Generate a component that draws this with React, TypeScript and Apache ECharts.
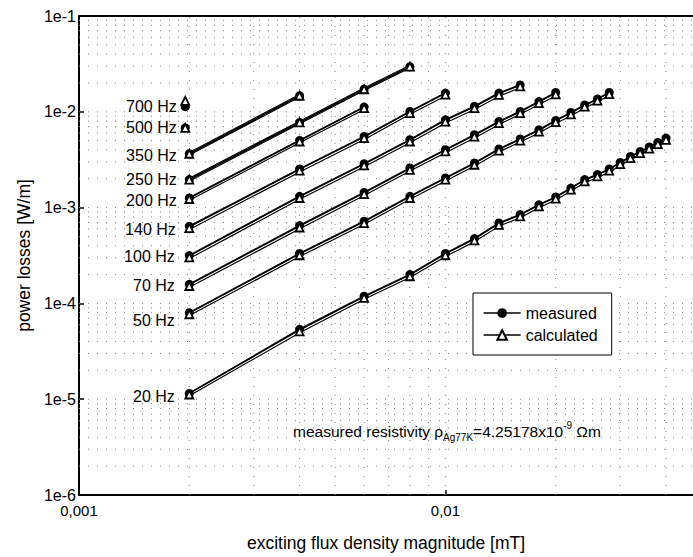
import React, { useEffect, useRef } from 'react';
import * as echarts from 'echarts';

const FONT = '"Liberation Sans", Arial, Helvetica, sans-serif';

// ---------- data ----------
const frequencyLabels = ['700 Hz', '500 Hz', '350 Hz', '250 Hz', '200 Hz', '140 Hz', '100 Hz', '70 Hz', '50 Hz', '20 Hz'];

const singlePointB = [0.00195];
const fluxB = [0.002, 0.004, 0.006, 0.008, 0.01, 0.012, 0.014, 0.016, 0.018, 0.02,
  0.022, 0.024, 0.026, 0.028, 0.03, 0.032, 0.034, 0.036, 0.038, 0.04];

const measured700 = [1.13e-2];
const calculated700 = [1.3e-2];
const measured500 = [6.8e-3];
const calculated500 = [6.8e-3];
const measured350 = [3.65e-3, 1.47e-2];
const calculated350 = [3.65e-3, 1.47e-2];
const measured250 = [1.96e-3, 7.74e-3, 1.72e-2, 2.96e-2];
const calculated250 = [1.96e-3, 7.74e-3, 1.72e-2, 2.96e-2];
const measured200 = [1.26e-3, 5.02e-3, 1.12e-2];
const calculated200 = [1.23e-3, 4.9e-3, 1.09e-2];
const measured140 = [6.38e-4, 2.53e-3, 5.53e-3, 1.01e-2, 1.57e-2];
const calculated140 = [6.1e-4, 2.43e-3, 5.3e-3, 9.7e-3, 1.51e-2];
const measured100 = [3.16e-4, 1.31e-3, 2.87e-3, 5.11e-3, 8.25e-3, 1.14e-2, 1.57e-2, 1.91e-2];
const calculated100 = [3.03e-4, 1.26e-3, 2.76e-3, 4.9e-3, 7.9e-3, 1.09e-2, 1.5e-2, 1.84e-2];
const measured70 = [1.58e-4, 6.49e-4, 1.44e-3, 2.59e-3, 4.02e-3, 5.76e-3, 7.92e-3, 1.01e-2, 1.28e-2, 1.59e-2];
const calculated70 = [1.52e-4, 6.2e-4, 1.38e-3, 2.48e-3, 3.86e-3, 5.5e-3, 7.6e-3, 9.7e-3, 1.23e-2, 1.52e-2];
const measured50 = [8.0e-5, 3.32e-4, 7.2e-4, 1.31e-3, 2.04e-3, 2.92e-3, 4.09e-3, 5.2e-3, 6.49e-3, 8.11e-3,
  9.84e-3, 1.18e-2, 1.36e-2, 1.59e-2];
const calculated50 = [7.7e-5, 3.18e-4, 6.9e-4, 1.26e-3, 1.96e-3, 2.8e-3, 3.93e-3, 5.0e-3, 6.2e-3, 7.8e-3,
  9.4e-3, 1.13e-2, 1.31e-2, 1.53e-2];
const measured20 = [1.15e-5, 5.36e-5, 1.19e-4, 2.0e-4, 3.32e-4, 4.75e-4, 6.92e-4, 8.45e-4, 1.07e-3, 1.29e-3,
  1.6e-3, 1.96e-3, 2.21e-3, 2.53e-3, 2.96e-3, 3.42e-3, 3.86e-3, 4.29e-3, 4.79e-3, 5.32e-3];
const calculated20 = [1.12e-5, 5.1e-5, 1.14e-4, 1.92e-4, 3.18e-4, 4.55e-4, 6.6e-4, 8.1e-4, 1.03e-3, 1.24e-3,
  1.54e-3, 1.88e-3, 2.12e-3, 2.43e-3, 2.84e-3, 3.28e-3, 3.7e-3, 4.12e-3, 4.6e-3, 5.1e-3];

const xTickValues = [0.001, 0.01];
const xTickLabels = ['0,001', '0,01'];
const yTickValues = [1e-6, 1e-5, 1e-4, 1e-3, 1e-2, 1e-1];
const yTickLabels = ['1e-6', '1e-5', '1e-4', '1e-3', '1e-2', '1e-1'];
const gridMultipliers = [1, 2, 3, 4, 5, 6, 7, 8, 9];
const xGridDecades = [0.001, 0.01];
const yGridDecades = [1e-6, 1e-5, 1e-4, 1e-3, 1e-2];

const X_MIN = 0.001;
const X_MAX = 0.0474;
const Y_MIN = 1e-6;
const Y_MAX = 1e-1;

// ---------- assembly ----------
const groups = [
  { label: frequencyLabels[0], x: singlePointB, m: measured700, c: calculated700 },
  { label: frequencyLabels[1], x: singlePointB, m: measured500, c: calculated500 },
  { label: frequencyLabels[2], x: fluxB, m: measured350, c: calculated350 },
  { label: frequencyLabels[3], x: fluxB, m: measured250, c: calculated250 },
  { label: frequencyLabels[4], x: fluxB, m: measured200, c: calculated200 },
  { label: frequencyLabels[5], x: fluxB, m: measured140, c: calculated140 },
  { label: frequencyLabels[6], x: fluxB, m: measured100, c: calculated100 },
  { label: frequencyLabels[7], x: fluxB, m: measured70, c: calculated70 },
  { label: frequencyLabels[8], x: fluxB, m: measured50, c: calculated50 },
  { label: frequencyLabels[9], x: fluxB, m: measured20, c: calculated20 },
];

// label placement styles (per group index)
const labelDistance = [4, 4, 8, 8, 8, 9, 10, 10, 10, 10];
const labelOffsetY = [0, 0, 2, 0, 3, 3, 1, 1, 8, 3];

const pairs = (xs: number[], ys: number[]) => ys.map((y, i) => [xs[i], y]);

const findLabel = (v: number, values: number[], labels: string[]) => {
  for (let i = 0; i < values.length; i++) {
    if (Math.abs(Math.log10(v) - Math.log10(values[i])) < 1e-6) return labels[i];
  }
  return '';
};

const gridLineStyle = { color: '#808080', type: [1, 8], width: 1 };

function buildOption(): any {
  const series: any[] = [];

  const xGrid: number[] = [];
  xGridDecades.forEach((d) => gridMultipliers.forEach((k) => {
    const v = d * k;
    if (v > X_MIN * 1.0001 && v < X_MAX) xGrid.push(v);
  }));
  const yGrid: number[] = [];
  yGridDecades.forEach((d) => gridMultipliers.forEach((k) => {
    const v = d * k;
    if (v > Y_MIN * 1.0001 && v < Y_MAX * 0.9999) yGrid.push(v);
  }));

  xGrid.forEach((v, i) => {
    series.push({
      type: 'line', name: 'gx' + i, data: [[v, Y_MIN], [v, Y_MAX]], symbol: 'none',
      lineStyle: gridLineStyle, z: 0, silent: true,
    });
  });
  yGrid.forEach((v, i) => {
    series.push({
      type: 'line', name: 'gy' + i, data: [[X_MIN, v], [X_MAX, v]], symbol: 'none',
      lineStyle: gridLineStyle, z: 0, silent: true,
    });
  });

  groups.forEach((g, k) => {
    const cData = pairs(g.x, g.c);
    const mData: any[] = pairs(g.x, g.m).map((p, i) =>
      i === 0
        ? {
            value: p,
            label: {
              show: true,
              formatter: g.label,
              position: 'left',
              distance: labelDistance[k],
              offset: [0, labelOffsetY[k]],
              color: '#000',
              fontSize: 16,
              fontFamily: FONT,
            },
          }
        : { value: p }
    );
    series.push({
      type: 'line', name: 'calc-outline-' + k, data: cData, symbol: 'none',
      lineStyle: { color: '#000', width: 3.5 }, z: 1, silent: true,
    });
    series.push({
      type: 'line', name: 'calc-inner-' + k, data: cData, symbol: 'none',
      lineStyle: { color: '#fff', width: 1.2 }, z: 2, silent: true,
    });
    series.push({
      type: 'line', name: 'measured', data: mData, symbol: 'circle', symbolSize: 9,
      itemStyle: { color: '#000' }, lineStyle: { color: '#000', width: 1.7 }, z: 3, silent: true,
    });
    series.push({
      type: 'line', name: 'calculated', data: cData, symbol: 'triangle', symbolSize: 8,
      itemStyle: { color: '#fff', borderColor: '#000', borderWidth: 1.8 },
      lineStyle: { color: '#000', width: 1, opacity: 0 }, z: 4, silent: true,
    });
  });

  return {
    animation: false,
    backgroundColor: '#fff',
    textStyle: { fontFamily: FONT, color: '#000' },
    grid: { left: 79, right: 0, top: 16, bottom: 61 },
    legend: {
      orient: 'vertical',
      left: 473,
      top: 293,
      data: ['measured', 'calculated'],
      itemWidth: 37,
      itemHeight: 12,
      itemGap: 6,
      padding: [12, 14, 12, 10],
      borderColor: '#000',
      borderWidth: 1,
      backgroundColor: '#fff',
      lineStyle: { color: '#000', width: 1.3, opacity: 1 },
      textStyle: { fontFamily: FONT, fontSize: 16, color: '#000' },
      selectedMode: false,
    },
    xAxis: [
      {
        type: 'log',
        logBase: 10,
        min: X_MIN,
        max: X_MAX,
        name: 'exciting flux density magnitude [mT]',
        nameLocation: 'middle',
        nameGap: 39,
        nameTextStyle: { fontFamily: FONT, fontSize: 17.5, color: '#000' },
        axisLine: { show: true, lineStyle: { color: '#000', width: 2 } },
        axisTick: { show: true, inside: true, length: 5, lineStyle: { color: '#000', width: 1.5 } },
        axisLabel: {
          color: '#000', fontSize: 15, fontFamily: FONT, margin: 8, showMaxLabel: false,
          formatter: (v: number) => findLabel(v, xTickValues, xTickLabels),
        },
        splitLine: { show: false },
      },
      {
        type: 'log',
        logBase: 10,
        min: X_MIN,
        max: X_MAX,
        position: 'top',
        axisLine: { show: true, lineStyle: { color: '#000', width: 2 } },
        axisTick: { show: false },
        axisLabel: { show: false },
        splitLine: { show: false },
      },
    ],
    yAxis: {
      type: 'log',
      logBase: 10,
      min: Y_MIN,
      max: Y_MAX,
      name: 'power losses [W/m]',
      nameLocation: 'middle',
      nameGap: 46,
      nameTextStyle: { fontFamily: FONT, fontSize: 17.5, color: '#000' },
      axisLine: { show: true, lineStyle: { color: '#000', width: 2 } },
      axisTick: { show: true, inside: true, length: 5, lineStyle: { color: '#000', width: 1.5 } },
      axisLabel: {
        color: '#000', fontSize: 16, fontFamily: FONT, margin: 3,
        formatter: (v: number) => findLabel(v, yTickValues, yTickLabels),
      },
      splitLine: { show: false },
    },
    graphic: [
      {
        type: 'text',
        left: 293,
        top: 420,
        z: 10,
        style: {
          text: '{a|measured resistivity ρ}{sub|Ag77K}{a|=4.25178x10}{sup|-9}{a| Ωm}',
          fill: '#000',
          rich: {
            a: { fontSize: 15.5, fontFamily: FONT, fill: '#000', lineHeight: 22, verticalAlign: 'middle' },
            sub: { fontSize: 10, fontFamily: FONT, fill: '#000', lineHeight: 10, verticalAlign: 'bottom' },
            sup: { fontSize: 10, fontFamily: FONT, fill: '#000', lineHeight: 10, verticalAlign: 'top' },
          },
        },
      },
    ],
    series,
  };
}

export default function App() {
  const ref = useRef<HTMLDivElement>(null);
  useEffect(() => {
    if (!ref.current) return;
    const chart = echarts.init(ref.current, null, { renderer: 'svg' });
    chart.setOption(buildOption());
    return () => chart.dispose();
  }, []);
  return (
    <div
      ref={ref}
      style={{ position: 'fixed', left: 0, top: 0, width: 693, height: 557, background: '#fff' }}
    />
  );
}
